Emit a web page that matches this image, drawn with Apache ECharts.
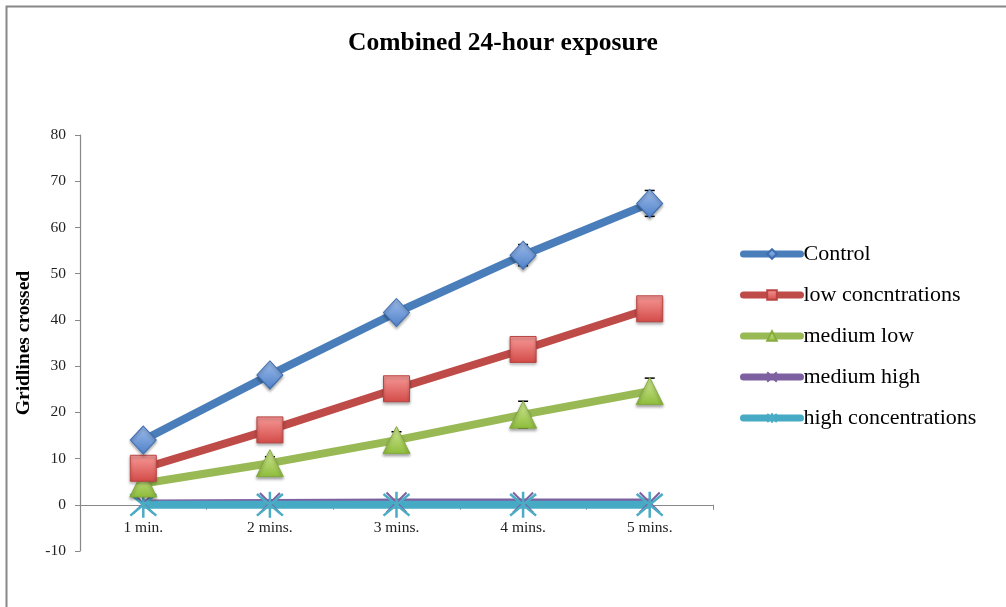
<!DOCTYPE html>
<html>
<head>
<meta charset="utf-8">
<script src="https://cdn.jsdelivr.net/npm/echarts@6/dist/echarts.min.js"></script>
<style>
  html, body { margin: 0; padding: 0; background: #fff; }
  #chart { width: 1006px; height: 607px; }
</style>
</head>
<body>
<div id="chart"></div>
<script>
// Time points on the x axis
const categories = ['1 min.', '2 mins.', '3 mins.', '4 mins.', '5 mins.'];

// Mean gridlines crossed per group
const control = [14, 28.1, 41.6, 54, 65.2];
const lowConcentrations = [7.9, 16.2, 25.1, 33.6, 42.4];
const mediumLow = [4.6, 9, 14, 19.5, 24.6];
const mediumHigh = [0.3, 0.4, 0.5, 0.5, 0.5];
const highConcentrations = [0, 0, 0, 0, 0];

// Error bar half-widths
const controlErr = [1, 1.2, 1.5, 2.3, 2.8];
const mediumLowErr = [0.8, 1.4, 1.8, 2.9, 2.8];

// Value axis range
const Y_MIN = -10;
const Y_MAX = 80;
const Y_STEP = 10;

const FONT = '"Liberation Serif", "DejaVu Serif", serif';

const GRID_TOP = 135;
const GRID_BOTTOM = 56;
const CHART_H = 607;
const plotH = CHART_H - GRID_TOP - GRID_BOTTOM;
// lift the category axis from the bottom edge up to the zero line
const zeroLift = plotH * (0 - Y_MIN) / (Y_MAX - Y_MIN);

function grad(top, bottom) {
  return new echarts.graphic.LinearGradient(0, 0, 0, 1, [
    { offset: 0, color: top },
    { offset: 1, color: bottom }
  ]);
}

const shadow = { shadowBlur: 3, shadowColor: 'rgba(0,0,0,0.35)', shadowOffsetY: 2 };

const starPath = 'path://M0,0 L20,20 M20,0 L0,20 M10,-2 L10,22';

function lineSeries(name, data, color, symbol, size, itemStyle, z) {
  return {
    name: name,
    type: 'line',
    data: data,
    symbol: symbol,
    symbolSize: size,
    z: z,
    lineStyle: { color: color, width: 8 },
    itemStyle: itemStyle,
    emphasis: { disabled: true },
    animation: false
  };
}

function errorSeries(values, errs, z) {
  return {
    type: 'custom',
    z: z,
    silent: true,
    animation: false,
    data: values.map((v, i) => [i, v, errs[i]]),
    renderItem: function (params, api) {
      const x = api.value(0);
      const v = api.value(1);
      const e = api.value(2);
      const top = api.coord([x, v + e]);
      const bot = api.coord([x, v - e]);
      const cap = 5;
      const st = { stroke: '#000', lineWidth: 1.5 };
      return {
        type: 'group',
        children: [
          { type: 'line', shape: { x1: top[0], y1: top[1], x2: bot[0], y2: bot[1] }, style: st },
          { type: 'line', shape: { x1: top[0] - cap, y1: top[1], x2: top[0] + cap, y2: top[1] }, style: st },
          { type: 'line', shape: { x1: bot[0] - cap, y1: bot[1], x2: bot[0] + cap, y2: bot[1] }, style: st }
        ]
      };
    }
  };
}

const chart = echarts.init(document.getElementById('chart'), null, { renderer: 'canvas' });

chart.setOption({
  backgroundColor: '#fff',
  animation: false,
  graphic: [{
    type: 'rect',
    shape: { x: 6.5, y: 6.5, width: 1010, height: 610 },
    style: { fill: 'none', stroke: '#888', lineWidth: 2 },
    silent: true
  }],
  title: {
    text: 'Combined 24-hour exposure',
    left: 'center',
    top: 25,
    textStyle: { fontFamily: FONT, fontWeight: 'bold', fontSize: 25.5, color: '#000' }
  },
  legend: {
    orient: 'vertical',
    left: 740,
    top: 243,
    padding: 0,
    itemWidth: 57,
    itemHeight: 12,
    itemGap: 19,
    lineStyle: { width: 7, cap: 'round' },
    textStyle: { fontFamily: FONT, fontSize: 22, color: '#000', padding: [0, 0, 0, -2] },
    data: ['Control', 'low concntrations', 'medium low', 'medium high', 'high concentrations'],
    selectedMode: false
  },
  grid: { left: 80, right: 293, top: GRID_TOP, bottom: GRID_BOTTOM },
  xAxis: {
    type: 'category',
    data: categories,
    boundaryGap: true,
    offset: -zeroLift,
    axisLine: { onZero: false, lineStyle: { color: '#888', width: 1.2 } },
    axisTick: { show: true, length: 5, lineStyle: { color: '#888' } },
    axisLabel: { fontFamily: FONT, fontSize: 15.5, color: '#222', margin: 15 },
    splitLine: { show: false }
  },
  yAxis: {
    type: 'value',
    min: Y_MIN,
    max: Y_MAX,
    interval: Y_STEP,
    name: 'Gridlines crossed',
    nameLocation: 'middle',
    nameRotate: 90,
    nameGap: 41,
    nameTextStyle: { fontFamily: FONT, fontWeight: 'bold', fontSize: 19.5, color: '#000' },
    axisLine: { show: true, lineStyle: { color: '#888', width: 1.2 } },
    axisTick: { show: true, length: 5, lineStyle: { color: '#888' } },
    axisLabel: { fontFamily: FONT, fontSize: 15.5, color: '#222', margin: 14 },
    splitLine: { show: false }
  },
  series: [
    errorSeries(control, controlErr, 1),
    errorSeries(mediumLow, mediumLowErr, 1),
    lineSeries('Control', control, '#4A7EBB', 'diamond', [26, 28],
      Object.assign({ color: grad('#9EBDEB', '#4F81C9'), borderColor: '#3D6DB0', borderWidth: 1 }, shadow), 6),
    lineSeries('low concntrations', lowConcentrations, '#BE4B48', 'rect', 26,
      Object.assign({ color: grad('#F79A98', '#D24A47'), borderColor: '#B94542', borderWidth: 1 }, shadow), 5),
    lineSeries('medium low', mediumLow, '#98B954', 'triangle', 27,
      Object.assign({ color: grad('#D4EB9A', '#8DBB3A'), borderColor: '#86AC3F', borderWidth: 1 }, shadow), 4),
    lineSeries('medium high', mediumHigh, '#7D60A0', 'path://M0,0 L20,20 M20,0 L0,20', 20,
      { color: 'transparent', borderColor: '#7D60A0', borderWidth: 2 }, 3),
    lineSeries('high concentrations', highConcentrations, '#46AAC5', starPath, 26,
      { color: 'transparent', borderColor: '#4BACC6', borderWidth: 2.5 }, 3)
  ]
});
</script>
</body>
</html>
